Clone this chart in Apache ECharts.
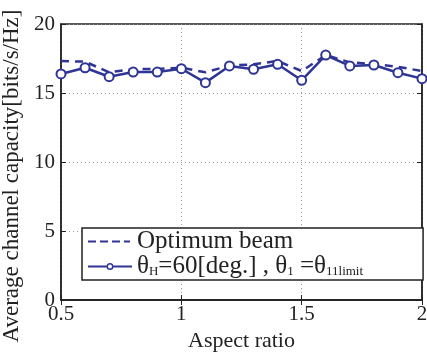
<!DOCTYPE html>
<html>
<head>
<meta charset="utf-8">
<script src="https://cdn.jsdelivr.net/npm/echarts@6/dist/echarts.min.js"></script>
<style>
  html, body { margin: 0; padding: 0; background: #fff; }
  #chart { width: 427px; height: 354px; }
</style>
</head>
<body>
<div id="chart"></div>
<script>
// Aspect ratio values (x axis)
const aspectRatios = [0.5, 0.6, 0.7, 0.8, 0.9, 1.0, 1.1, 1.2, 1.3, 1.4, 1.5, 1.6, 1.7, 1.8, 1.9, 2.0];
// Optimum beam (dashed)
const optimumBeam = [17.32, 17.27, 16.5, 16.74, 16.74, 16.83, 16.5, 16.98, 17.08, 17.32, 16.59, 17.75, 17.22, 17.1, 16.9, 16.59];
// theta_H = 60 deg (solid with circles)
const thetaH60 = [16.38, 16.83, 16.18, 16.52, 16.52, 16.76, 15.75, 16.96, 16.72, 17.08, 15.92, 17.75, 16.96, 17.03, 16.47, 16.04];

const xTicks = [0.5, 1, 1.5, 2];
const yTicks = [0, 5, 10, 15, 20];

const BLUE = '#2f3596';
const FONT = 'Liberation Serif';

const toPairs = (ys) => aspectRatios.map((x, i) => [x, ys[i]]);

// legend icons, 44x10 box (tiny corner specks keep the box size)
const CORNERS = 'M0,0L0.01,0L0,0.01Z M44,10L43.99,10L44,9.99Z ';
const ICON_DASHED = 'path://' + CORNERS +
    'M0,4H8V6H0Z M12,4H20V6H12Z M24,4H32V6H24Z M36,4H42V6H36Z';
const ICON_MARKER = 'path://' + CORNERS +
    'M0,4H18.5V6H0Z M25.5,4H44V6H25.5Z ' +
    'M18.5,5A3.5,3.5 0 1,0 25.5,5A3.5,3.5 0 1,0 18.5,5Z ' +
    'M20,5A2,2 0 1,1 24,5A2,2 0 1,1 20,5Z';

const chart = echarts.init(document.getElementById('chart'));

const tickStyle = { show: true, inside: true, length: 5, lineStyle: { color: '#222', width: 1 } };
const gridLine = { show: true, lineStyle: { color: '#9a9a9a', type: [1, 3], width: 1 } };

chart.setOption({
    animation: false,
    backgroundColor: '#fff',
    grid: {
        left: 61, right: 5, top: 24, bottom: 54,
        outerBoundsMode: 'none',
        containLabel: false,
        show: true, borderColor: '#222', borderWidth: 1.5
    },
    xAxis: [{
        type: 'value',
        min: 0.5, max: 2, interval: 0.5,
        name: 'Aspect ratio',
        nameLocation: 'middle',
        nameGap: 25,
        nameTextStyle: { fontFamily: FONT, fontSize: 22, color: '#222' },
        axisLine: { show: true, lineStyle: { color: '#222', width: 1.5 } },
        axisTick: tickStyle,
        axisLabel: {
            fontFamily: FONT, fontSize: 21, color: '#222', margin: 4,
            formatter: (v) => xTicks.includes(v) ? String(v) : ''
        },
        splitLine: gridLine
    }, {
        type: 'value', position: 'top',
        min: 0.5, max: 2, interval: 0.5,
        axisLine: { show: true, lineStyle: { color: '#222', width: 1.5 } },
        axisTick: tickStyle,
        axisLabel: { show: false },
        splitLine: { show: false }
    }],
    yAxis: [{
        type: 'value',
        min: 0, max: 20, interval: 5,
        name: 'Average channel capacity[bits/s/Hz]',
        nameLocation: 'middle',
        nameGap: 36,
        nameTextStyle: { fontFamily: FONT, fontSize: 23, color: '#222', padding: [0, 28, 0, 0] },
        axisLine: { show: true, lineStyle: { color: '#222', width: 1.5 } },
        axisTick: tickStyle,
        axisLabel: {
            fontFamily: FONT, fontSize: 21, color: '#222', margin: 6,
            formatter: (v) => yTicks.includes(v) ? String(v) : ''
        },
        splitLine: gridLine
    }, {
        type: 'value', position: 'right',
        min: 0, max: 20, interval: 5,
        axisLine: { show: true, lineStyle: { color: '#222', width: 1.5 } },
        axisTick: tickStyle,
        axisLabel: { show: false },
        splitLine: { show: false }
    }],
    legend: {
        orient: 'vertical',
        left: 82, top: 228,
        padding: [1, 60, 1, 6],
        itemGap: 0,
        itemWidth: 44,
        itemHeight: 10,
        backgroundColor: '#fff',
        borderColor: '#222',
        borderWidth: 1.5,
        borderRadius: 0,
        textStyle: {
            fontFamily: FONT, fontSize: 25, color: '#222', lineHeight: 24,
            rich: {
                n: { fontFamily: FONT, fontSize: 25, color: '#222', lineHeight: 24 },
                s: { fontFamily: FONT, fontSize: 13, color: '#222', verticalAlign: 'bottom', lineHeight: 24, padding: [6, 0, 0, 0] }
            }
        },
        formatter: (name) => name === 'theta'
            ? '{n|θ}{s|H}{n|=60[deg.] , θ}{s|1}{n| =θ}{s|11limit}'
            : name,
        data: [
            { name: 'Optimum beam', icon: ICON_DASHED, itemStyle: { color: BLUE, borderWidth: 0 } },
            { name: 'theta', icon: ICON_MARKER, itemStyle: { color: BLUE, borderWidth: 0 } }
        ]
    },
    series: [{
        name: 'Optimum beam',
        type: 'line',
        data: toPairs(optimumBeam),
        showSymbol: false,
        symbol: 'none',
        lineStyle: { color: BLUE, width: 2.5, type: [8, 6] },
        itemStyle: { color: BLUE },
        z: 3
    }, {
        name: 'theta',
        type: 'line',
        data: toPairs(thetaH60),
        symbol: 'circle',
        symbolSize: 9,
        lineStyle: { color: BLUE, width: 2.5 },
        itemStyle: { color: '#fff', borderColor: BLUE, borderWidth: 2 },
        z: 4
    }]
});
</script>
</body>
</html>
